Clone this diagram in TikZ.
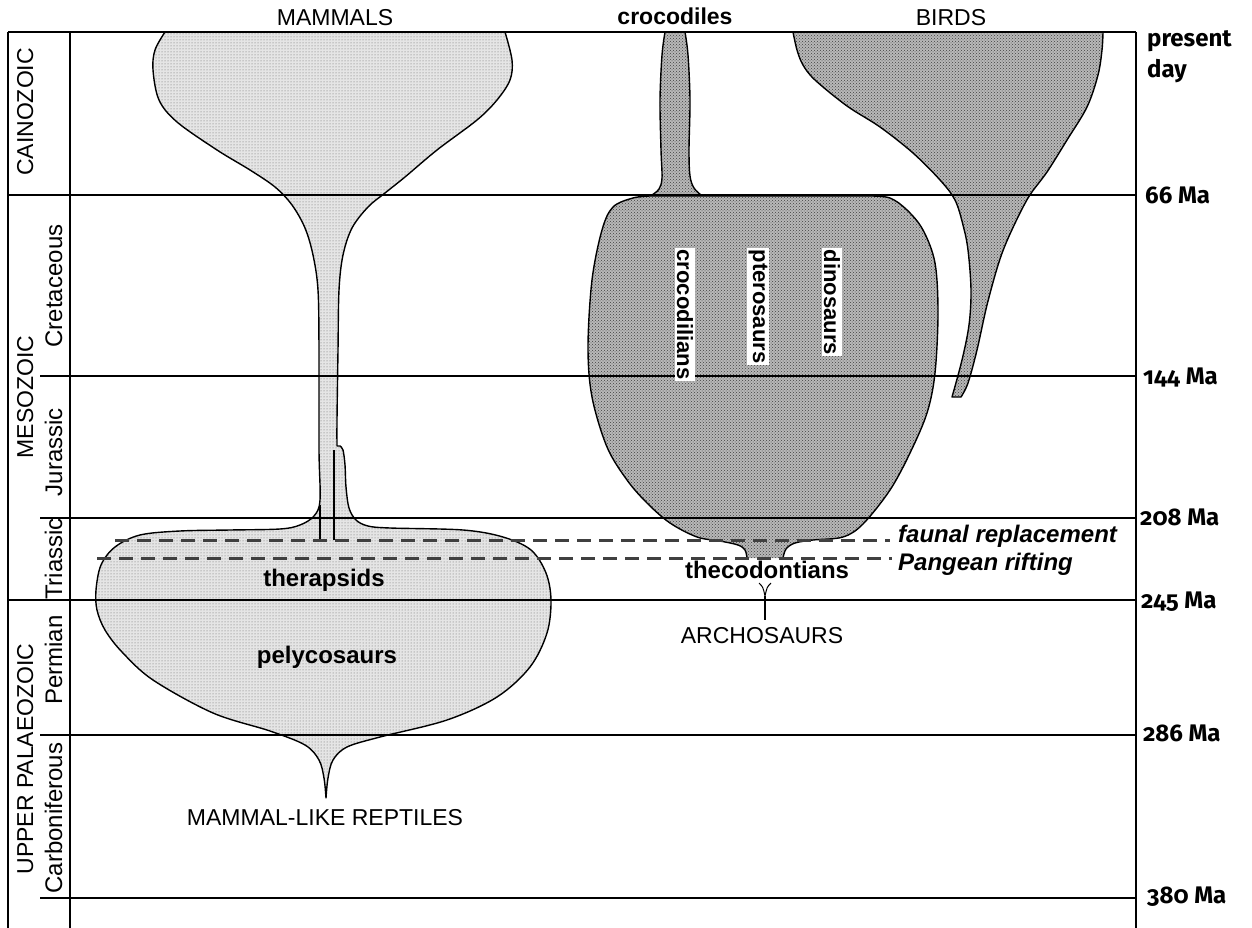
\documentclass[tikz,border=0pt]{standalone}
\usepackage{fontspec}
\setmainfont{Liberation Sans}
\newfontfamily\agefont[Numbers=OldStyle]{Fira Sans}
\usetikzlibrary{patterns}
\begin{document}
\begin{tikzpicture}[x=1pt,y=-1pt,
  thinline/.style={line width=1.1pt},
  thickline/.style={line width=2.4pt},
  outline/.style={line width=1.4pt, line join=round},
  mamfill/.style={preaction={fill=black!10}, pattern=dots, pattern color=black!60},
  arcfill/.style={preaction={fill=black!28}, pattern=crosshatch dots, pattern color=black!75},
  dashline/.style={line width=3pt, draw=black!75, dash pattern=on 14pt off 8pt},
  toplabel/.style={font=\fontsize{23}{23}\selectfont, anchor=base, inner sep=0pt},
  boldlabel/.style={font=\bfseries\fontsize{24}{24}\selectfont, anchor=base, inner sep=0pt},
  italabel/.style={font=\bfseries\itshape\fontsize{24}{24}\selectfont, anchor=base west, inner sep=0pt},
  rotlabel/.style={font=\bfseries\fontsize{22}{22}\selectfont, rotate=-90, anchor=west, fill=white, inner sep=1.5pt},
  eralabel/.style={font=\fontsize{23}{23}\selectfont, rotate=90, anchor=base, inner sep=0pt},
  perlabel/.style={font=\fontsize{24}{24}\selectfont, rotate=90, anchor=base, inner sep=0pt},
  agelabel/.style={font=\agefont\bfseries\fontsize{24}{24}\selectfont, anchor=base west, inner sep=0pt}
]
\useasboundingbox (0,0) rectangle (1252,928);
\fill[white] (0,0) rectangle (1252,928);

% ---------- mammal-like reptiles / mammals ----------
\draw[mamfill, outline]
  plot[smooth, tension=0.55] coordinates {(165,32) (155,50) (153,70) (159,100) (177,122) (217,150) (250,170) (275,187) (292,205) (305,228) (313,255) (318,290) (319,350) (319,450) (320,500) (314,516) (300,525) (280,529) (230,530) (180,531) (140,535) (115,547) (101,565) (96,590) (97,610) (105,630) (122,652) (153,680) (213,713) (270,731) (305,745) (319,760) (324,778) (326,798)}
  -- plot[smooth, tension=0.55] coordinates {(326,798) (328,778) (333,760) (347,747) (380,737) (447,720) (497,697) (530,667) (547,633) (551,600) (546,573) (531,550) (503,537) (463,530) (390,528) (368,526) (356,520) (349,508) (346,487) (345,465) (343,450) (340,446)}
  -- plot[smooth, tension=0.55] coordinates {(337,446) (337,420) (338,350) (339,290) (343,255) (352,228) (368,207) (385,193) (405,177) (437,150) (477,120) (497,100) (510,80) (512,60) (505,32)}
  -- cycle;
\draw[outline] (320,505) -- (320,540);
\draw[outline] (334,450) -- (334,540);

% ---------- archosaurs ----------
\def\archopath{plot[smooth, tension=0.55] coordinates {(783,558) (786,549) (795,543) (813,540) (843,537) (863,524) (890,490) (910,453) (927,413) (935,373) (938,313) (935,263) (923,230) (907,210) (890,198) (870,196)} -- (650,196) -- plot[smooth, tension=0.55] coordinates {(650,196) (633,198) (613,207) (602,230) (592,280) (588,347) (592,397) (607,447) (627,480) (647,503) (670,523) (697,537) (720,541) (738,545) (745,550) (747,558)}}
\path[arcfill] \archopath -- cycle;
\draw[outline] \archopath;

% crocodiles
\draw[arcfill, outline]
  plot[smooth, tension=0.55] coordinates {(652,195) (659,189) (662,178) (661,150) (660,100) (662,55) (665,32)}
  -- plot[smooth, tension=0.55] coordinates {(685,32) (688,55) (690,100) (689,150) (690,176) (694,188) (701,195)}
  -- cycle;

% birds
\draw[arcfill, outline]
  plot[smooth, tension=0.55] coordinates {(793,32) (797,50) (803,65) (815,80) (847,106) (880,127) (913,153) (940,180) (955,200) (963,225) (968,250) (971,290) (969,325) (962,360) (952,397)}
  -- plot[smooth, tension=0.55] coordinates {(961,397) (968,383) (977,350) (987,305) (999,262) (1010,234) (1028,198) (1047,172) (1067,140) (1087,107) (1098,75) (1102,50) (1103,32)}
  -- cycle;

% thecodont root
\draw[outline, line width=1pt] (759,583) .. controls (763,587) .. (765,596) .. controls (767,587) .. (771,583);
\draw[outline, line width=1.2pt] (765,596) -- (765,620);

% ---------- frame and time lines ----------
\draw[thinline] (8,32) -- (1136,32);
\draw[thinline] (8,32) -- (8,928);
\draw[thickline] (70,32) -- (70,928);
\draw[thinline] (1136,32) -- (1136,928);
\draw[thickline] (8,195) -- (1136,195);
\draw[thinline] (40,376) -- (1136,376);
\draw[thinline] (40,518) -- (1136,518);
\draw[thickline] (8,600) -- (1136,600);
\draw[thinline] (40,735) -- (1136,735);
\draw[thinline] (40,898) -- (1136,898);

% dashed event lines
\draw[dashline] (115,540) -- (890,540);
\draw[dashline] (97,558) -- (892,558);

% ---------- labels ----------
\node[toplabel] (mammals) at (335,26) {MAMMALS};
\node[toplabel, font=\bfseries\fontsize{23}{23}\selectfont] (crocs) at (675,25) {crocodiles};
\node[toplabel] (birds) at (951,26) {BIRDS};

\node[boldlabel] (therap) at (324,586) {therapsids};
\node[boldlabel] (pelyco) at (327,663) {pelycosaurs};
\node[toplabel] (mlr) at (325,825) {MAMMAL-LIKE REPTILES};
\node[boldlabel] (theco) at (767,578) {thecodontians};
\node[toplabel] (archo) at (762,643) {ARCHOSAURS};

\node[rotlabel] (crocod) at (685,248) {crocodilians};
\node[rotlabel] (ptero) at (758,248) {pterosaurs};
\node[rotlabel] (dino) at (832,248) {dinosaurs};

\node[italabel] (faunal) at (898,542) {faunal replacement};
\node[italabel] (pangean) at (898,570) {Pangean rifting};

\node[eralabel] (cain) at (33,112) {CAINOZOIC};
\node[eralabel] (meso) at (33,397) {MESOZOIC};
\node[eralabel] (palaeo) at (33,759) {UPPER PALAEOZOIC};
\node[perlabel] (cret) at (62,286) {Cretaceous};
\node[perlabel] (jur) at (62,452) {Jurassic};
\node[perlabel] (tri) at (62,559) {Triassic};
\node[perlabel] (perm) at (62,660) {Permian};
\node[perlabel] (carb) at (62,818) {Carboniferous};

\node[agelabel] (present) at (1147,47) {present};
\node[agelabel] (day) at (1147,78) {day};
\node[agelabel] (a66) at (1145,204) {66 Ma};
\node[agelabel] (a144) at (1143,384) {144 Ma};
\node[agelabel] (a208) at (1140,525) {208 Ma};
\node[agelabel] (a245) at (1141,608) {245 Ma};
\node[agelabel] (a286) at (1143,741) {286 Ma};
\node[agelabel] (a380) at (1147,903) {380 Ma};
\end{tikzpicture}
\end{document}
